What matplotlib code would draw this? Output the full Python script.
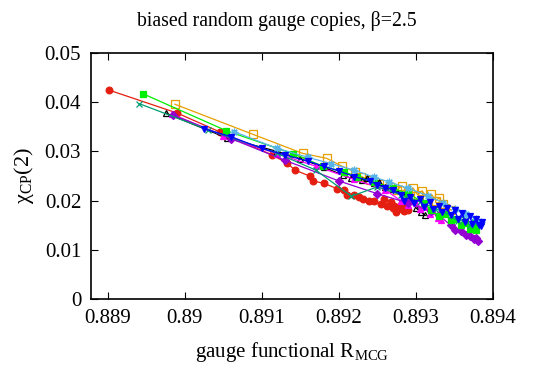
import matplotlib
matplotlib.use("Agg")
import matplotlib.pyplot as plt

plt.rcParams['font.family'] = ['Liberation Serif', 'DejaVu Serif']
plt.rcParams['mathtext.fontset'] = 'custom'
plt.rcParams['mathtext.rm'] = 'Liberation Serif'

# values (R_MCG, chi_CP(2))
red_x = [0.88901, 0.88990, 0.89045, 0.89113, 0.89133, 0.89143, 0.89162, 0.89166, 0.89181, 0.89198,
         0.89206, 0.89211, 0.89219, 0.89226, 0.89231, 0.89239, 0.89246, 0.89254, 0.89262, 0.89270,
         0.89277, 0.89268, 0.89280, 0.89285, 0.89274, 0.89288, 0.89282, 0.89290, 0.89258, 0.89284]
red_y = [0.0425, 0.0378, 0.0340, 0.0293, 0.0276, 0.0262, 0.0250, 0.0240, 0.0235, 0.0224,
         0.0222, 0.0211, 0.0211, 0.0208, 0.0203, 0.0200, 0.0200, 0.0193, 0.0189, 0.0186,
         0.0182, 0.0198, 0.0190, 0.0178, 0.0176, 0.0186, 0.0196, 0.0180, 0.0203, 0.0184]

green_x = [0.88946, 0.89054, 0.89141, 0.89179, 0.89206, 0.89223, 0.89245, 0.89270, 0.89290, 0.89310,
           0.89320, 0.89330, 0.89338, 0.89345, 0.89352, 0.89358, 0.89364, 0.89370, 0.89375, 0.89378,
           0.89376]
green_y = [0.0417, 0.0342, 0.0295, 0.0270, 0.0259, 0.0249, 0.0238, 0.0225, 0.0214, 0.0196,
           0.0180, 0.0168, 0.0172, 0.0160, 0.0163, 0.0150, 0.0155, 0.0143, 0.0150, 0.0141,
           0.0157]

teal_x = [0.88941, 0.89030, 0.89120, 0.89170, 0.89216, 0.89250, 0.89280, 0.89305, 0.89325, 0.89345,
          0.89355, 0.89362, 0.89370, 0.89376]
teal_y = [0.0397, 0.0344, 0.0296, 0.0262, 0.0209, 0.0228, 0.0212, 0.0198, 0.0184, 0.0170,
          0.0158, 0.0162, 0.0150, 0.0154]

orange_x = [0.88987, 0.89088, 0.89153, 0.89184, 0.89204, 0.89221, 0.89229, 0.89240, 0.89252, 0.89266,
            0.89275, 0.89282, 0.89290, 0.89296, 0.89302, 0.89308, 0.89314, 0.89320, 0.89326, 0.89330,
            0.89335, 0.89338, 0.89346]
orange_y = [0.0396, 0.0335, 0.0296, 0.0286, 0.0270, 0.0258, 0.0249, 0.0242, 0.0234, 0.0227,
            0.0222, 0.0230, 0.0218, 0.0226, 0.0212, 0.0220, 0.0206, 0.0213, 0.0200, 0.0206,
            0.0193, 0.0186, 0.0181]

black_x = [0.88975, 0.89055, 0.89120, 0.89150, 0.89180, 0.89205, 0.89215, 0.89222, 0.89230, 0.89237,
           0.89245, 0.89252, 0.89260, 0.89270, 0.89285, 0.89295, 0.89300, 0.89307, 0.89312]
black_y = [0.0378, 0.0327, 0.0300, 0.0285, 0.0268, 0.0252, 0.0246, 0.0250, 0.0242, 0.0246,
           0.0236, 0.0238, 0.0228, 0.0224, 0.0212, 0.0200, 0.0185, 0.0176, 0.0170]

magenta_x = [0.88983, 0.89050, 0.89120, 0.89170, 0.89220, 0.89260, 0.89280, 0.89290, 0.89300, 0.89305,
             0.89312, 0.89318, 0.89322, 0.89328, 0.89333, 0.89330]
magenta_y = [0.0376, 0.0332, 0.0295, 0.0270, 0.0243, 0.0222, 0.0200, 0.0192, 0.0195, 0.0183,
             0.0188, 0.0172, 0.0178, 0.0165, 0.0160, 0.0170]

purple_x = [0.88985, 0.89060, 0.89130, 0.89200, 0.89250, 0.89290, 0.89320, 0.89330, 0.89345, 0.89350,
            0.89358, 0.89365, 0.89370, 0.89375, 0.89380, 0.89378]
purple_y = [0.0374, 0.0326, 0.0282, 0.0240, 0.0214, 0.0195, 0.0178, 0.0170, 0.0150, 0.0140,
            0.0138, 0.0130, 0.0128, 0.0122, 0.0118, 0.0125]

lblue_x = [0.89064, 0.89120, 0.89160, 0.89190, 0.89220, 0.89245, 0.89265, 0.89290, 0.89315, 0.89335,
           0.89350, 0.89365, 0.89378, 0.89384]
lblue_y = [0.0340, 0.0306, 0.0288, 0.0275, 0.0262, 0.0248, 0.0238, 0.0225, 0.0210, 0.0196,
           0.0184, 0.0172, 0.0162, 0.0156]

blue_x = [0.89025, 0.89060, 0.89100, 0.89130, 0.89160, 0.89180, 0.89200, 0.89220, 0.89240, 0.89250,
          0.89260, 0.89270, 0.89280, 0.89285, 0.89292, 0.89298, 0.89305, 0.89310, 0.89318, 0.89322,
          0.89330, 0.89334, 0.89340, 0.89345, 0.89350, 0.89355, 0.89360, 0.89364, 0.89370, 0.89373,
          0.89378, 0.89382, 0.89386, 0.89384]
blue_y = [0.0346, 0.0330, 0.0306, 0.0293, 0.0280, 0.0270, 0.0260, 0.0249, 0.0240, 0.0232,
          0.0226, 0.0222, 0.0212, 0.0200, 0.0208, 0.0195, 0.0203, 0.0188, 0.0198, 0.0183,
          0.0190, 0.0176, 0.0186, 0.0170, 0.0180, 0.0163, 0.0174, 0.0157, 0.0168, 0.0153,
          0.0162, 0.0150, 0.0156, 0.0148]

series = [
    (red_x, red_y, "#e41e10", "o", "#e41e10", 4.8),
    (orange_x, orange_y, "#e69f00", "s", "none", 5.2),
    (black_x, black_y, "black", "^", "none", 4.8),
    (magenta_x, magenta_y, "#ff00ff", "^", "#ff00ff", 4.8),
    (purple_x, purple_y, "#9400d3", "D", "#9400d3", 3.8),
    (green_x, green_y, "#00ee00", "s", "#00ee00", 4.8),
    (teal_x, teal_y, "#009e73", "x", "#009e73", 4.8),
    (lblue_x, lblue_y, "#56b4e9", (8, 2, 0), "#56b4e9", 5.5),
    (blue_x, blue_y, "#0000ff", "v", "#0000ff", 4.8),
]

fig = plt.figure(figsize=(5.54, 3.71), dpi=100)
ax = fig.add_axes([0.164, 0.194, 0.726, 0.663])

for xs, ys, col, mk, fc, ms in series:
    ax.plot(xs, ys, color=col, lw=0.9, marker=mk, mfc=fc, mec=col, ms=ms, mew=0.9)

ax.set_xlim(0.88878, 0.894)
ax.set_ylim(0, 0.05)
ax.set_xticks([0.889, 0.890, 0.891, 0.892, 0.893, 0.894])
ax.set_xticklabels(["0.889", "0.89", "0.891", "0.892", "0.893", "0.894"])
ax.set_yticks([0, 0.01, 0.02, 0.03, 0.04, 0.05])
ax.set_yticklabels(["0", "0.01", "0.02", "0.03", "0.04", "0.05"])
ax.tick_params(direction="in", top=True, right=True, length=5, width=0.8, labelsize=15, pad=7)
for sp in ax.spines.values():
    sp.set_linewidth(1.2)

# gnuplot centres the title on the whole canvas
fig.text(0.5, 0.93, "biased random gauge copies, β=2.5", fontsize=14.2,
         ha="center", va="baseline")
ax.set_xlabel("gauge functional R$_{\\mathrm{MCG}}$", fontsize=15, labelpad=9)
ax.set_ylabel("χ$_{\\mathrm{CP}}$(2)", fontsize=16, labelpad=6)

fig.savefig("out.png", dpi=100)
